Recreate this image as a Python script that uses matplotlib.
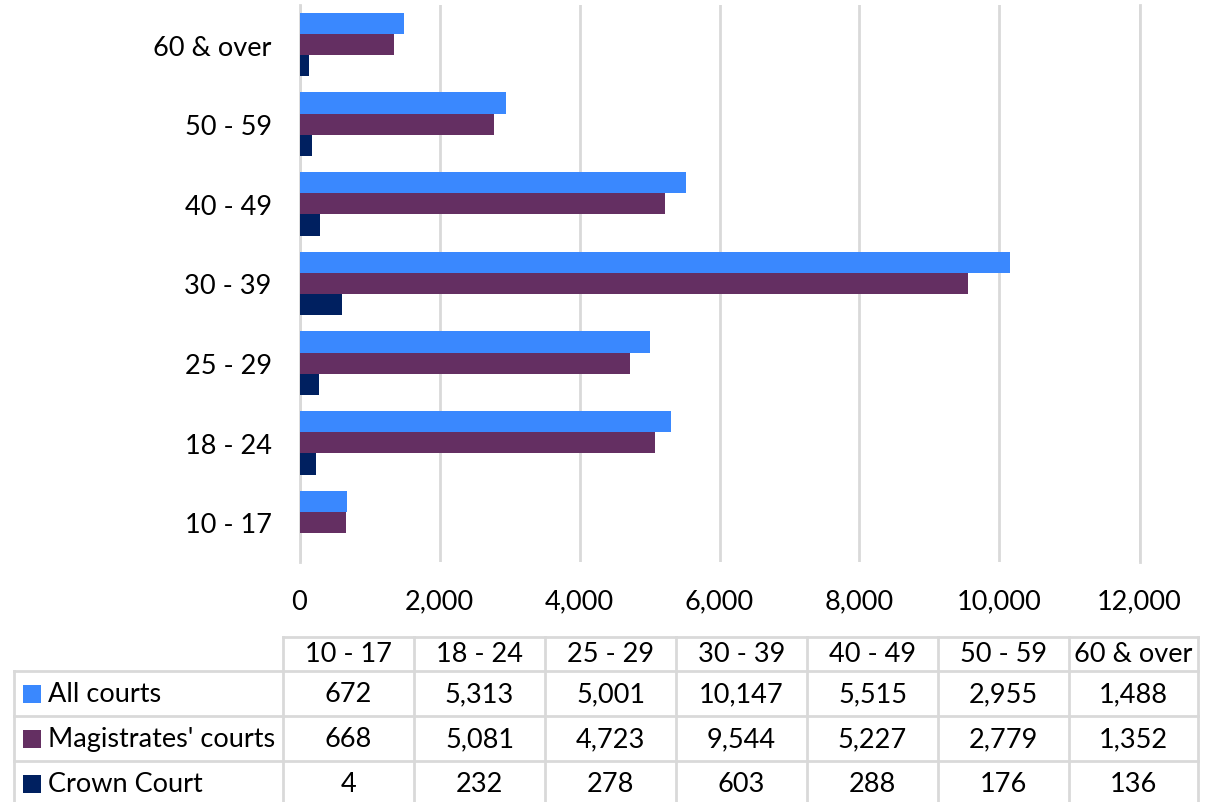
import matplotlib.pyplot as plt
from matplotlib.patches import Rectangle
from matplotlib.lines import Line2D

# ---------------------------------------------------------------------------
# Data
# ---------------------------------------------------------------------------
age_groups = ["10 - 17", "18 - 24", "25 - 29", "30 - 39", "40 - 49", "50 - 59", "60 & over"]
series_names = ["All courts", "Magistrates' courts", "Crown Court"]
all_courts = [672, 5313, 5001, 10147, 5515, 2955, 1488]
magistrates = [668, 5081, 4723, 9544, 5227, 2779, 1352]
crown_court = [4, 232, 278, 603, 288, 176, 136]

COLORS = ["#3A88FE", "#642F62", "#002060"]
GRID = "#D9D9D9"
FONT = "Lato"
FS = 19.5

W, H = 1206, 803


def fx(px):
    return px / W


def fy(py):
    return 1 - py / H


def main() -> None:
    plt.rcParams["font.family"] = [FONT, "DejaVu Sans"]
    fig = plt.figure(figsize=(W / 100, H / 100), dpi=100)

    # ── Bar chart ───────────────────────────────────────────────────────────
    left, right, top, bottom = 299.5, 1139.5, 5.7, 563.3
    ax = fig.add_axes([fx(left), fy(bottom), fx(right - left), (bottom - top) / H])

    bar_h = 0.266
    values = [all_courts, magistrates, crown_court]
    offsets = [bar_h, 0, -bar_h]
    for vals, off, col in zip(values, offsets, COLORS):
        ys = [i + off for i in range(len(age_groups))]
        ax.barh(ys, vals, height=bar_h, color=col, zorder=3, linewidth=0)

    ax.set_xlim(0, 12000)
    ax.set_ylim(-0.5, len(age_groups) - 0.5)
    ax.set_xticks(range(0, 12001, 2000))
    ax.set_xticklabels([f"{v:,}" for v in range(0, 12001, 2000)])
    ax.set_yticks(range(len(age_groups)))
    ax.set_yticklabels(age_groups)
    ax.tick_params(axis="both", length=0, labelsize=FS, colors="black")
    ax.tick_params(axis="x", pad=19)
    ax.tick_params(axis="y", pad=20)
    ax.grid(axis="x", color=GRID, linewidth=2, zorder=0)
    ax.grid(axis="y", visible=False)
    for s in ax.spines.values():
        s.set_visible(False)
    for xv in (0, 12000):
        ax.axvline(xv, color=GRID, linewidth=2, zorder=0, clip_on=False)

    # ── Data table ──────────────────────────────────────────────────────────
    col_edges = [283 + 131 * i for i in range(len(age_groups) + 1)]
    col_edges[-1] = 1198
    row_edges = [638, 672, 717, 762, 807]
    tl_x = 14

    def hline(py, x0, x1):
        fig.add_artist(Line2D([fx(x0), fx(x1)], [fy(py), fy(py)],
                              color=GRID, linewidth=2))

    def vline(px, y0, y1):
        fig.add_artist(Line2D([fx(px), fx(px)], [fy(y0), fy(y1)],
                              color=GRID, linewidth=2))

    hline(row_edges[0], col_edges[0], col_edges[-1])
    for py in row_edges[1:]:
        hline(py, tl_x, col_edges[-1])
    vline(tl_x, row_edges[1], row_edges[-1])
    for px in col_edges:
        vline(px, row_edges[0], row_edges[-1])

    # header
    hc = (row_edges[0] + row_edges[1]) / 2
    for i, lab in enumerate(age_groups):
        cx = (col_edges[i] + col_edges[i + 1]) / 2
        fig.text(fx(cx), fy(hc), lab, ha="center", va="center", fontsize=FS)

    # rows
    for r, (name, vals, col) in enumerate(zip(series_names, values, COLORS)):
        cy = (row_edges[r + 1] + row_edges[r + 2]) / 2
        fig.add_artist(Rectangle((fx(23), fy(cy + 9)), fx(18), 18 / H,
                                 facecolor=col, edgecolor="none"))
        fig.text(fx(48), fy(cy), name, ha="left", va="center", fontsize=FS)
        for i, v in enumerate(vals):
            cx = (col_edges[i] + col_edges[i + 1]) / 2
            fig.text(fx(cx), fy(cy), f"{v:,}", ha="center", va="center", fontsize=FS)

    fig.savefig("out.png", dpi=100, facecolor="white")
    plt.close(fig)


if __name__ == "__main__":
    main()
